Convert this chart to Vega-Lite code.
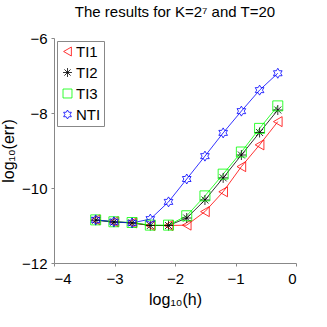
{
  "$schema": "https://vega.github.io/schema/vega-lite/v6.json",
  "width": 242,
  "height": 225,
  "autosize": "none",
  "padding": {"left": 54, "top": 38, "right": 31, "bottom": 64},
  "background": "white",
  "title": {
    "text": "The results for K=2⁷ and T=20",
    "font": "Liberation Sans",
    "fontSize": 15,
    "fontWeight": "normal",
    "color": "black",
    "anchor": "middle",
    "offset": 11
  },
  "config": {
    "view": {"stroke": null},
    "axis": {
      "domainColor": "#888888",
      "tickColor": "#888888",
      "grid": false,
      "labelFont": "Liberation Sans",
      "labelFontSize": 15,
      "labelColor": "black",
      "titleFont": "Liberation Sans",
      "titleFontSize": 16,
      "titleFontWeight": "normal",
      "titleColor": "black"
    },
    "legend": {
      "labelFont": "Liberation Sans",
      "labelFontSize": 15,
      "labelColor": "black"
    }
  },
  "data": {
    "values": [
      {"h": -3.311, "err": -10.85, "s": "TI1"},
      {"h": -3.010, "err": -10.90, "s": "TI1"},
      {"h": -2.709, "err": -10.93, "s": "TI1"},
      {"h": -2.408, "err": -11.00, "s": "TI1"},
      {"h": -2.107, "err": -11.00, "s": "TI1"},
      {"h": -1.806, "err": -10.99, "s": "TI1"},
      {"h": -1.505, "err": -10.63, "s": "TI1"},
      {"h": -1.204, "err": -10.10, "s": "TI1"},
      {"h": -0.903, "err": -9.43, "s": "TI1"},
      {"h": -0.602, "err": -8.85, "s": "TI1"},
      {"h": -0.301, "err": -8.23, "s": "TI1"},
      {"h": -3.311, "err": -10.86, "s": "TI2"},
      {"h": -3.010, "err": -10.91, "s": "TI2"},
      {"h": -2.709, "err": -10.93, "s": "TI2"},
      {"h": -2.408, "err": -11.00, "s": "TI2"},
      {"h": -2.107, "err": -11.00, "s": "TI2"},
      {"h": -1.806, "err": -10.80, "s": "TI2"},
      {"h": -1.505, "err": -10.32, "s": "TI2"},
      {"h": -1.204, "err": -9.73, "s": "TI2"},
      {"h": -0.903, "err": -9.12, "s": "TI2"},
      {"h": -0.602, "err": -8.52, "s": "TI2"},
      {"h": -0.301, "err": -7.92, "s": "TI2"},
      {"h": -3.311, "err": -10.85, "s": "TI3"},
      {"h": -3.010, "err": -10.90, "s": "TI3"},
      {"h": -2.709, "err": -10.92, "s": "TI3"},
      {"h": -2.408, "err": -10.99, "s": "TI3"},
      {"h": -2.107, "err": -10.99, "s": "TI3"},
      {"h": -1.806, "err": -10.74, "s": "TI3"},
      {"h": -1.505, "err": -10.21, "s": "TI3"},
      {"h": -1.204, "err": -9.63, "s": "TI3"},
      {"h": -0.903, "err": -9.04, "s": "TI3"},
      {"h": -0.602, "err": -8.41, "s": "TI3"},
      {"h": -0.301, "err": -7.81, "s": "TI3"},
      {"h": -3.311, "err": -10.85, "s": "NTI"},
      {"h": -3.010, "err": -10.90, "s": "NTI"},
      {"h": -2.709, "err": -10.93, "s": "NTI"},
      {"h": -2.408, "err": -10.83, "s": "NTI"},
      {"h": -2.107, "err": -10.37, "s": "NTI"},
      {"h": -1.806, "err": -9.76, "s": "NTI"},
      {"h": -1.505, "err": -9.15, "s": "NTI"},
      {"h": -1.204, "err": -8.53, "s": "NTI"},
      {"h": -0.903, "err": -7.95, "s": "NTI"},
      {"h": -0.602, "err": -7.39, "s": "NTI"},
      {"h": -0.301, "err": -6.94, "s": "NTI"}
    ]
  },
  "encoding": {
    "x": {
      "field": "h",
      "type": "quantitative",
      "scale": {"domain": [-4, 0], "nice": false},
      "axis": {"values": [-4, -3, -2, -1, 0], "title": "log₁₀(h)", "tickSize": 3, "labelPadding": 5, "titlePadding": 5}
    },
    "y": {
      "field": "err",
      "type": "quantitative",
      "scale": {"domain": [-12, -6], "nice": false, "zero": false},
      "axis": {"values": [-12, -10, -8, -6], "title": "log₁₀(err)", "tickSize": 3, "labelPadding": 4, "titlePadding": 5}
    }
  },
  "layer": [
    {
      "mark": {"type": "line", "strokeWidth": 0.8},
      "encoding": {
        "stroke": {
          "field": "s",
          "type": "nominal",
          "scale": {"domain": ["NTI", "TI1", "TI2", "TI3"], "range": ["#0000ff", "#ff0000", "#000000", "#00ff00"]},
          "legend": null
        }
      }
    },
    {
      "mark": {"type": "point", "filled": false, "strokeWidth": 0.8, "size": 100, "opacity": 1},
      "encoding": {
        "color": {
          "field": "s",
          "type": "nominal",
          "scale": {"domain": ["TI1", "TI2", "TI3", "NTI"], "range": ["#ff0000", "#000000", "#00ff00", "#0000ff"]},
          "legend": {
            "title": null,
            "orient": "top-left",
            "offset": 3,
            "strokeColor": "#888888",
            "fillColor": "white",
            "padding": 3,
            "rowPadding": 5,
            "symbolSize": 80,
            "symbolStrokeWidth": 0.8,
            "labelOffset": 1
          }
        },
        "shape": {
          "field": "s",
          "type": "nominal",
          "scale": {
            "domain": ["TI1", "TI2", "TI3", "NTI"],
            "range": [
              "triangle-left",
              "M-1,0L1,0M0,-1L0,1M-0.7,-0.7L0.7,0.7M-0.7,0.7L0.7,-0.7",
              "square",
              "M0,-1L0.289,-0.5L0.866,-0.5L0.577,0L0.866,0.5L0.289,0.5L0,1L-0.289,0.5L-0.866,0.5L-0.577,0L-0.866,-0.5L-0.289,-0.5Z"
            ]
          },
          "legend": {
            "title": null,
            "orient": "top-left",
            "offset": 3,
            "strokeColor": "#888888",
            "fillColor": "white",
            "padding": 3,
            "rowPadding": 5,
            "symbolSize": 80,
            "symbolStrokeWidth": 0.8,
            "labelOffset": 1
          }
        }
      }
    }
  ]
}
